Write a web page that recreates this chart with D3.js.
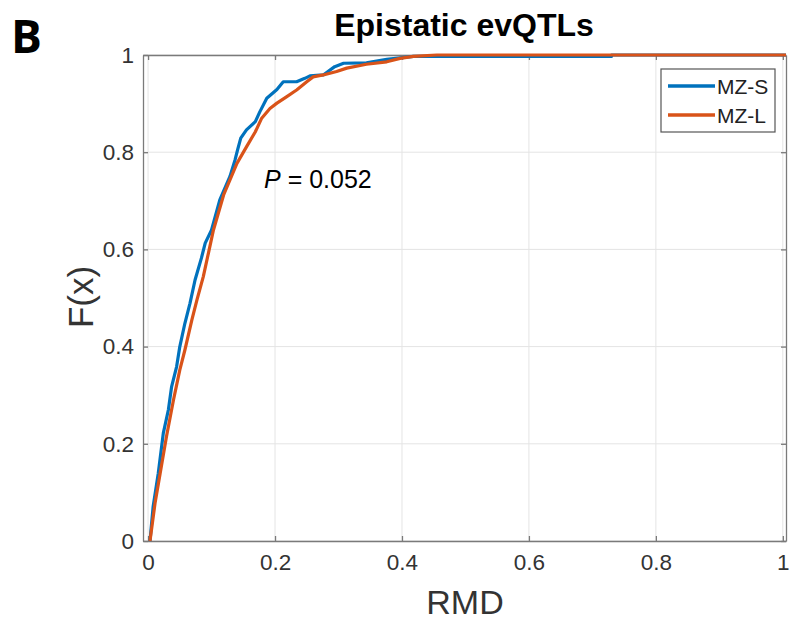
<!DOCTYPE html>
<html>
<head>
<meta charset="utf-8">
<script src="https://cdn.jsdelivr.net/npm/d3@7"></script>
<style>
  body { margin: 0; background: #fff; }
  text { font-family: "Liberation Sans", Arial, sans-serif; }
</style>
</head>
<body>
<div id="chart"></div>
<script>
const rmdS = [0.003, 0.008, 0.016, 0.024, 0.032, 0.037, 0.045, 0.050, 0.058, 0.066, 0.074, 0.084, 0.090, 0.100, 0.113, 0.129, 0.137, 0.141, 0.146, 0.155, 0.169, 0.176, 0.187, 0.203, 0.213, 0.234, 0.247, 0.255, 0.276, 0.294, 0.308, 0.344, 0.376, 0.418, 0.730, 0.730, 1.005];
const cdfS = [0, 0.071, 0.139, 0.222, 0.270, 0.317, 0.359, 0.400, 0.448, 0.489, 0.537, 0.582, 0.613, 0.640, 0.702, 0.750, 0.784, 0.805, 0.829, 0.846, 0.863, 0.883, 0.911, 0.929, 0.945, 0.945, 0.952, 0.957, 0.959, 0.976, 0.983, 0.984, 0.991, 0.997, 0.997, 1, 1];
const rmdL = [0.003, 0.011, 0.019, 0.029, 0.040, 0.050, 0.058, 0.069, 0.077, 0.087, 0.095, 0.103, 0.119, 0.129, 0.140, 0.155, 0.169, 0.179, 0.192, 0.203, 0.218, 0.234, 0.250, 0.260, 0.276, 0.297, 0.313, 0.344, 0.376, 0.397, 0.418, 0.455, 1.005];
const cdfL = [0, 0.078, 0.139, 0.215, 0.290, 0.352, 0.393, 0.455, 0.496, 0.544, 0.592, 0.640, 0.712, 0.743, 0.777, 0.811, 0.842, 0.870, 0.890, 0.901, 0.914, 0.928, 0.945, 0.955, 0.959, 0.966, 0.973, 0.981, 0.986, 0.993, 0.997, 1, 1];
const seriesNames = ["MZ-S", "MZ-L"];
const seriesColors = ["#0072BD", "#D95319"];
const xTicks = [0, 0.2, 0.4, 0.6, 0.8, 1];
const yTicks = [0, 0.2, 0.4, 0.6, 0.8, 1];

const width = 790, height = 621;
const plot = { left: 143, right: 786, top: 55, bottom: 541 };

const svg = d3.select("#chart").append("svg")
    .attr("width", width)
    .attr("height", height);

const x = d3.scaleLinear().domain([-0.008, 1.005]).range([plot.left, plot.right]);
const y = d3.scaleLinear().domain([0, 1]).range([plot.bottom, plot.top]);

// grid
const grid = svg.append("g").attr("stroke", "#e4e4e4").attr("stroke-width", 1);
grid.selectAll(".gx").data(xTicks).join("line")
    .attr("class", "gx")
    .attr("x1", d => x(d)).attr("x2", d => x(d))
    .attr("y1", plot.top).attr("y2", plot.bottom);
grid.selectAll(".gy").data(yTicks).join("line")
    .attr("class", "gy")
    .attr("x1", plot.left).attr("x2", plot.right)
    .attr("y1", d => y(d)).attr("y2", d => y(d));

// axes (MATLAB style: ticks pointing in, box on)
const axisColor = "#7a7a7a";
svg.append("g")
    .attr("transform", `translate(0, ${plot.bottom})`)
    .call(d3.axisBottom(x).tickValues(xTicks).tickSizeInner(-5).tickSizeOuter(0).tickPadding(13)
        .tickFormat(d => d3.format("")(d)));
svg.append("g")
    .attr("transform", `translate(${plot.left}, 0)`)
    .call(d3.axisLeft(y).tickValues(yTicks).tickSizeInner(-5).tickSizeOuter(0).tickPadding(9)
        .tickFormat(d => d3.format("")(d)));
svg.append("g")
    .attr("transform", `translate(0, ${plot.top})`)
    .call(d3.axisTop(x).tickValues(xTicks).tickSizeInner(-5).tickSizeOuter(0).tickFormat(""));
svg.append("g")
    .attr("transform", `translate(${plot.right}, 0)`)
    .call(d3.axisRight(y).tickValues(yTicks).tickSizeInner(-5).tickSizeOuter(0).tickFormat(""));
svg.selectAll(".domain, .tick line").attr("stroke", axisColor).attr("stroke-width", 1.3);
svg.selectAll(".tick text")
    .attr("fill", "#333")
    .style("font-size", "22.5px")
    .style("font-family", "'Liberation Sans', Arial, sans-serif");

// curves
const line = d3.line()
    .x(d => x(d[0]))
    .y(d => y(d[1]));
const curves = [d3.zip(rmdS, cdfS), d3.zip(rmdL, cdfL)];
svg.append("g").selectAll("path").data(curves).join("path")
    .attr("fill", "none")
    .attr("stroke", (d, i) => seriesColors[i])
    .attr("stroke-width", 3.2)
    .attr("stroke-linejoin", "round")
    .attr("d", line);

// legend
const lg = svg.append("g");
lg.append("rect")
    .attr("x", 661).attr("y", 69).attr("width", 114).attr("height", 63)
    .attr("fill", "#fff").attr("stroke", "#555").attr("stroke-width", 1.2);
seriesNames.forEach((name, i) => {
    const ly = 86 + i * 29;
    lg.append("line")
        .attr("x1", 668).attr("x2", 715)
        .attr("y1", ly).attr("y2", ly)
        .attr("stroke", seriesColors[i]).attr("stroke-width", 3.5);
    lg.append("text")
        .attr("x", 717).attr("y", ly + 8)
        .attr("font-size", 21)
        .attr("fill", "#222")
        .text(name);
});

// annotation
const ann = svg.append("text")
    .attr("x", 264).attr("y", 188)
    .attr("font-size", 25)
    .attr("fill", "#000");
ann.append("tspan").attr("font-style", "italic").text("P");
ann.append("tspan").text(" = 0.052");

// title, labels
svg.append("text")
    .attr("x", 464).attr("y", 36)
    .attr("text-anchor", "middle")
    .attr("font-size", 32)
    .attr("font-weight", "bold")
    .text("Epistatic evQTLs");

svg.append("text")
    .attr("x", 11).attr("y", 53)
    .attr("font-size", 46)
    .attr("font-weight", "bold")
    .style("font-family", "'Open Sans', sans-serif")
    .text("B");

svg.append("text")
    .attr("x", 465).attr("y", 614)
    .attr("text-anchor", "middle")
    .attr("font-size", 34)
    .attr("fill", "#333")
    .text("RMD");

svg.append("text")
    .attr("transform", "translate(93, 297) rotate(-90)")
    .attr("text-anchor", "middle")
    .attr("font-size", 35)
    .attr("fill", "#333")
    .text("F(x)");
</script>
</body>
</html>
